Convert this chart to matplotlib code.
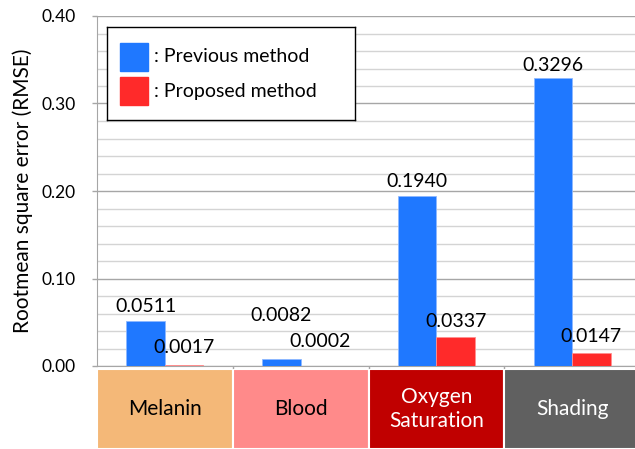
import matplotlib.pyplot as plt
import numpy as np

plt.rcParams['font.family'] = ['Lato', 'DejaVu Sans']

categories = ['Melanin', 'Blood', 'Oxygen\nSaturation', 'Shading']
cat_colors = ['#F4B878', '#FF8A8A', '#C00000', '#606060']
cat_text = ['black', 'black', 'white', 'white']
previous = [0.0511, 0.0082, 0.1940, 0.3296]
proposed = [0.0017, 0.0002, 0.0337, 0.0147]
prev_labels = ['0.0511', '0.0082', '0.1940', '0.3296']
prop_labels = ['0.0017', '0.0002', '0.0337', '0.0147']

blue = '#1F78FF'
red = '#FF2A2A'

W, H = 635, 449
fig = plt.figure(figsize=(W / 100, H / 100), dpi=100)

# main plot area (the right side is cut off in the original)
ax = fig.add_axes([97 / W, 83 / H, 543 / W, 350 / H])
x = np.arange(len(categories))
bw = 0.284
ax.bar(x - bw / 2, previous, bw, color=blue, edgecolor='#8DB8FF', linewidth=0.6, zorder=3)
ax.bar(x + bw / 2, proposed, bw, color=red, edgecolor='#FF9090', linewidth=0.6, zorder=3)

# value labels, offsets in points above the bar top (Blood ones sit higher)
prev_off = [7, 27, 6.5, 5]
prop_off = [8, 13.5, 6.5, 8]
for i in range(len(x)):
    ax.annotate(prev_labels[i], (x[i] - bw / 2, previous[i]), xytext=(0, prev_off[i]),
                textcoords='offset points', ha='center', va='baseline', fontsize=14)
    ax.annotate(prop_labels[i], (x[i] + bw / 2, proposed[i]), xytext=(0, prop_off[i]),
                textcoords='offset points', ha='center', va='baseline', fontsize=14)

ax.set_xlim(-0.5, 3.5)
ax.set_ylim(0, 0.40)
ax.set_yticks(np.arange(0, 0.41, 0.1))
ax.set_yticklabels(['0.00', '0.10', '0.20', '0.30', '0.40'], fontsize=12.5)
ax.set_yticks(np.arange(0, 0.401, 0.02), minor=True)
ax.grid(axis='y', which='major', color='#A6A6A6', linewidth=1.0, zorder=0)
ax.grid(axis='y', which='minor', color='#D4D4D4', linewidth=1.0, zorder=0)
ax.tick_params(axis='y', which='major', length=3.6, color='#A6A6A6', width=1, pad=12)
ax.tick_params(axis='y', which='minor', length=0)
ax.set_xticks([0.5, 1.5, 2.5])
ax.set_xticklabels([])
ax.tick_params(axis='x', length=3.6, color='#A6A6A6', width=1)
for s in ['top', 'right']:
    ax.spines[s].set_visible(False)
ax.spines['left'].set_color('#A6A6A6')
ax.spines['bottom'].set_color('#A6A6A6')
ax.set_ylabel('Rootmean square error (RMSE)', fontsize=15)
ax.yaxis.set_label_coords(-0.118, 0.5)

# legend box
leg_ax = fig.add_axes([107 / W, (H - 120) / H, 248 / W, 93 / H])
leg_ax.set_xlim(0, 248)
leg_ax.set_ylim(93, 0)
leg_ax.set_xticks([])
leg_ax.set_yticks([])
for s in leg_ax.spines.values():
    s.set_color('black')
    s.set_linewidth(1)
leg_ax.add_patch(plt.Rectangle((13, 16), 28, 28, color=blue))
leg_ax.add_patch(plt.Rectangle((13, 50), 28, 28, color=red))
leg_ax.text(47, 30, ': Previous method', va='center', fontsize=14)
leg_ax.text(47, 64, ': Proposed method', va='center', fontsize=14)

# category boxes under the axis
cax = fig.add_axes([97 / W, 0, 543 / W, 80 / H])
cax.bar(x, 1, 1, bottom=0, color=cat_colors, edgecolor='white', linewidth=1.5)
for i in range(len(x)):
    cax.text(x[i], 0.5, categories[i], ha='center', va='center', fontsize=15,
             color=cat_text[i], linespacing=1.2)
cax.set_xlim(-0.5, 3.5)
cax.set_ylim(0, 1)
cax.axis('off')

fig.savefig('out.png', dpi=100)
